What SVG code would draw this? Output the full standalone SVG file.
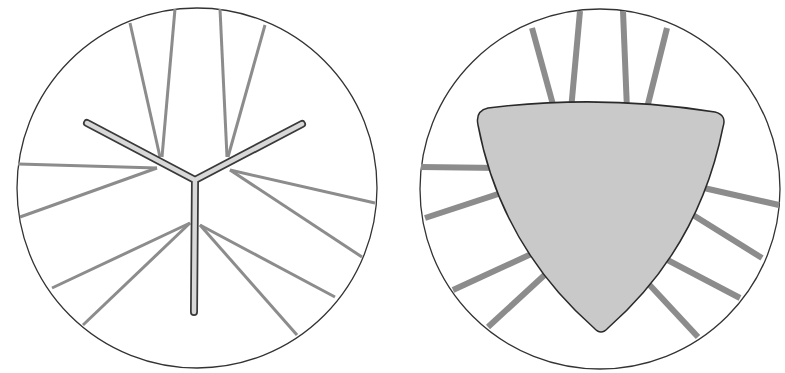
<svg xmlns="http://www.w3.org/2000/svg" width="785" height="373" viewBox="0 0 785 373">
<style>
.circ{fill:#fff;stroke:#333;stroke-width:1.3}
.thin{stroke:#8c8c8c;stroke-width:3;fill:none;stroke-linecap:butt}
.thick{stroke:#8c8c8c;stroke-width:6;fill:none;stroke-linecap:butt}
.yout{stroke:#3a3a3a;stroke-width:8;fill:none;stroke-linecap:round;stroke-linejoin:miter}
.yin{stroke:#d8d8d8;stroke-width:4.5;fill:none;stroke-linecap:round;stroke-linejoin:miter}
.tri{fill:#c9c9c9;stroke:#2a2a2a;stroke-width:1.5}
</style>
<rect width="785" height="373" fill="#fff"/>
<g id="left">
<circle class="circ" cx="197" cy="188" r="180"/>
<g id="left-lines">
<line class="thin" x1="130" y1="23" x2="160" y2="157"/>
<line class="thin" x1="175" y1="9" x2="162" y2="157"/>
<line class="thin" x1="220" y1="9" x2="227" y2="157"/>
<line class="thin" x1="265" y1="25" x2="228" y2="157"/>
<line class="thin" x1="18" y1="164" x2="157" y2="168"/>
<line class="thin" x1="20" y1="217" x2="157" y2="168"/>
<line class="thin" x1="52" y1="288" x2="190" y2="223"/>
<line class="thin" x1="83" y1="325" x2="190" y2="223"/>
<line class="thin" x1="335" y1="297" x2="200" y2="225"/>
<line class="thin" x1="297" y1="335" x2="200" y2="225"/>
<line class="thin" x1="375" y1="203" x2="230" y2="170"/>
<line class="thin" x1="362" y1="257" x2="230" y2="170"/>
</g>
<g id="y-shape">
<path class="yout" d="M87,123 L195,180 L302,124 M195,180 L194,312"/>
<path class="yin" d="M87,123 L195,180 L302,124 M195,180 L194,312"/>
</g>
</g>
<g id="right">
<circle class="circ" cx="600" cy="189" r="180"/>
<g id="right-lines">
<line class="thick" x1="532" y1="28" x2="555" y2="112"/>
<line class="thick" x1="580" y1="11" x2="571" y2="110"/>
<line class="thick" x1="623" y1="11" x2="627" y2="110"/>
<line class="thick" x1="667" y1="28" x2="646" y2="112"/>
<line class="thick" x1="421" y1="167" x2="500" y2="168"/>
<line class="thick" x1="425" y1="218" x2="510" y2="190"/>
<line class="thick" x1="453" y1="290" x2="540" y2="250"/>
<line class="thick" x1="488" y1="327" x2="550" y2="270"/>
<line class="thick" x1="779" y1="205" x2="695" y2="186"/>
<line class="thick" x1="762" y1="258" x2="685" y2="210"/>
<line class="thick" x1="740" y1="298" x2="660" y2="256"/>
<line class="thick" x1="698" y1="337" x2="645" y2="280"/>
</g>
<path id="triangle" class="tri" d="M488,108 Q601,94 715,112 Q727,115 723,127 Q699,248 608,328 Q601,336 594,328 Q501,246 478,125 Q475,111 488,108 Z"/>
</g>
</svg>
